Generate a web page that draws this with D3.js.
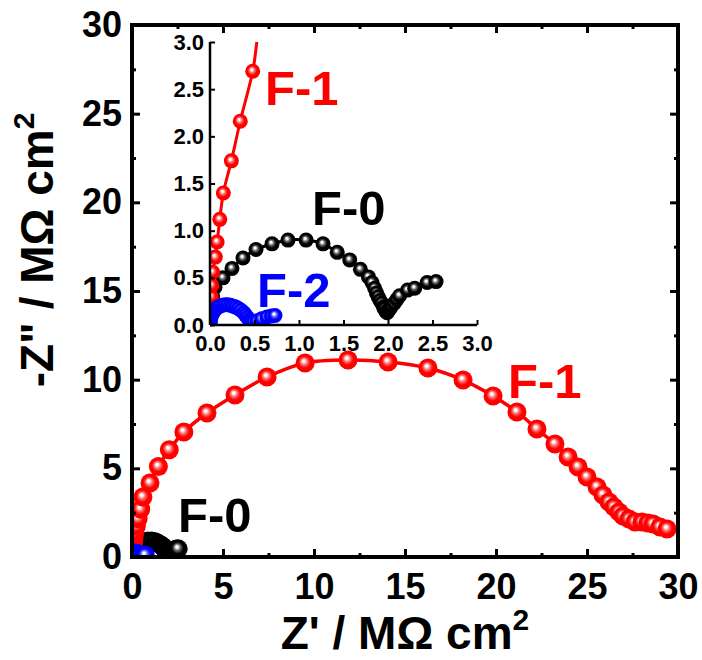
<!DOCTYPE html>
<html>
<head>
<meta charset="utf-8">
<script src="https://cdnjs.cloudflare.com/ajax/libs/d3/7.8.5/d3.min.js"></script>
<style>
body { margin: 0; background: #fff; }
text { font-family: "Liberation Sans", Arial, sans-serif; font-weight: bold; }
</style>
</head>
<body>
<svg id="chart"></svg>
<script>
// Nyquist data, Z' and -Z'' in MOhm cm2
var f0Data = [[0.01,0.1],[0.02,0.2],[0.03,0.3],[0.056,0.40],[0.146,0.50],[0.247,0.60],[0.371,0.71],
  [0.517,0.80],[0.697,0.86],[0.876,0.90],[1.08,0.90],[1.27,0.86],[1.43,0.77],[1.57,0.69],[1.69,0.59],
  [1.78,0.51],[1.82,0.45],[1.85,0.39],[1.87,0.34],[1.89,0.30],[1.91,0.26],[1.93,0.23],[1.95,0.19],
  [1.96,0.17],[1.98,0.14],[1.99,0.13],[2.00,0.15],[2.02,0.17],[2.04,0.20],[2.07,0.23],[2.10,0.27],
  [2.13,0.31],[2.22,0.37],[2.30,0.39],[2.44,0.45],[2.54,0.46]];

var f1Data = [[0.0,0.0],[0.005,0.1],[0.01,0.2],[0.015,0.3],[0.02,0.42],[0.03,0.56],[0.06,0.72],
  [0.08,0.88],[0.11,1.12],[0.15,1.40],[0.24,1.74],[0.34,2.16],[0.48,2.69],[0.60,3.38],[0.99,4.17],
  [1.45,5.1],[2.05,6.05],[2.85,7.05],[4.12,8.12],[5.66,9.14],[7.42,10.15],[9.51,10.94],[11.87,11.11],
  [14.07,11.0],[16.26,10.66],[18.19,9.98],[19.84,9.08],[21.15,8.18],[22.25,7.22],[23.24,6.37],
  [23.96,5.64],[24.51,5.08],[25.0,4.51],[25.55,3.95],[25.88,3.50],[26.21,3.10],[26.48,2.82],
  [26.76,2.54],[26.98,2.31],[27.31,2.14],[27.64,1.97],[28.02,1.97],[28.35,1.92],[28.63,1.86],
  [29.01,1.69],[29.40,1.58]];

var f2Data = [[0.0,0.0],[0.005,0.04],[0.012,0.08],[0.025,0.115],[0.04,0.14],[0.06,0.165],[0.085,0.185],
  [0.11,0.2],[0.14,0.21],[0.17,0.215],[0.2,0.215],[0.23,0.21],[0.26,0.2],[0.29,0.19],[0.32,0.175],
  [0.35,0.155],[0.38,0.13],[0.40,0.105],[0.42,0.08],[0.44,0.055],[0.46,0.04],[0.49,0.035],
  [0.53,0.045],[0.58,0.065],[0.64,0.085],[0.69,0.095],[0.73,0.1]];

var mainTicks = [0, 5, 10, 15, 20, 25, 30];
var mainMinor = [2.5, 7.5, 12.5, 17.5, 22.5, 27.5];
var insetTicks = [0, 0.5, 1.0, 1.5, 2.0, 2.5, 3.0];

var series = [
  {name: 'F-0', data: f0Data, color: '#000000', mid: '#666666'},
  {name: 'F-1', data: f1Data, color: '#ff0000', mid: '#ff7070'},
  {name: 'F-2', data: f2Data, color: '#0000ff', mid: '#6060ff'}
];

var svg = d3.select('#chart')
  .attr('width', 702)
  .attr('height', 660);

// sphere-like marker fills
var defs = svg.append('defs');
series.forEach(function(s, i) {
  var grad = defs.append('radialGradient')
    .attr('id', 'ball' + i)
    .attr('cx', 0.5).attr('cy', 0.5).attr('r', 0.5)
    .attr('fx', 0.42).attr('fy', 0.38);
  grad.append('stop').attr('offset', 0).attr('stop-color', '#ffffff');
  grad.append('stop').attr('offset', 0.12).attr('stop-color', '#ffffff');
  grad.append('stop').attr('offset', 0.35).attr('stop-color', s.mid);
  grad.append('stop').attr('offset', 0.62).attr('stop-color', s.color);
  grad.append('stop').attr('offset', 1).attr('stop-color', s.color);
});

// ---------- main plot ----------
var main = {left: 132, top: 25, width: 546, height: 532};

var x = d3.scaleLinear().domain([0, 30]).range([0, main.width]);
var y = d3.scaleLinear().domain([0, 30]).range([main.height, 0]);

var g = svg.append('g')
  .attr('transform', 'translate(' + main.left + ',' + main.top + ')');

defs.append('clipPath').attr('id', 'clipMain')
  .append('rect').attr('width', main.width).attr('height', main.height);

var plotMain = g.append('g').attr('clip-path', 'url(#clipMain)');

function drawSeries(target, xs, ys, r, lw) {
  series.forEach(function(s, i) {
    var line = d3.line()
      .x(function(d) { return xs(d[0]); })
      .y(function(d) { return ys(d[1]); })
      .curve(d3.curveCatmullRom.alpha(0.5));
    target.append('path')
      .datum(s.data)
      .attr('fill', 'none')
      .attr('stroke', s.color)
      .attr('stroke-width', lw)
      .attr('d', line);
    target.append('g')
      .selectAll('circle')
      .data(s.data)
      .enter().append('circle')
        .attr('cx', function(d) { return xs(d[0]); })
        .attr('cy', function(d) { return ys(d[1]); })
        .attr('r', r)
        .attr('fill', 'url(#ball' + i + ')');
  });
}

drawSeries(plotMain, x, y, 9.5, 3.5);

// axes, ticks pointing inward
function styleAxis(sel, fs) {
  sel.select('.domain').remove();
  sel.selectAll('text').attr('font-size', fs).attr('fill', '#000');
}

g.append('g')
  .attr('transform', 'translate(0,' + main.height + ')')
  .call(d3.axisBottom(x).tickValues(mainTicks).tickSize(-8).tickPadding(16))
  .call(styleAxis, 36)
  .selectAll('line').attr('stroke-width', 3);
g.append('g')
  .attr('transform', 'translate(0,' + main.height + ')')
  .call(d3.axisBottom(x).tickValues(mainMinor).tickSize(-4).tickFormat(''))
  .call(styleAxis, 36)
  .selectAll('line').attr('stroke-width', 3);
g.append('g')
  .call(d3.axisTop(x).tickValues(mainTicks).tickSize(-8).tickFormat(''))
  .call(styleAxis, 36)
  .selectAll('line').attr('stroke-width', 3);
g.append('g')
  .call(d3.axisTop(x).tickValues(mainMinor).tickSize(-4).tickFormat(''))
  .call(styleAxis, 36)
  .selectAll('line').attr('stroke-width', 3);

g.append('g')
  .call(d3.axisLeft(y).tickValues(mainTicks).tickSize(-8).tickPadding(10))
  .call(styleAxis, 36)
  .selectAll('line').attr('stroke-width', 3);
g.append('g')
  .call(d3.axisLeft(y).tickValues(mainMinor).tickSize(-4).tickFormat(''))
  .call(styleAxis, 36)
  .selectAll('line').attr('stroke-width', 3);
g.append('g')
  .attr('transform', 'translate(' + main.width + ',0)')
  .call(d3.axisRight(y).tickValues(mainTicks).tickSize(-8).tickFormat(''))
  .call(styleAxis, 36)
  .selectAll('line').attr('stroke-width', 3);
g.append('g')
  .attr('transform', 'translate(' + main.width + ',0)')
  .call(d3.axisRight(y).tickValues(mainMinor).tickSize(-4).tickFormat(''))
  .call(styleAxis, 36)
  .selectAll('line').attr('stroke-width', 3);

// frame
g.append('rect')
  .attr('width', main.width)
  .attr('height', main.height)
  .attr('fill', 'none')
  .attr('stroke', '#000')
  .attr('stroke-width', 4);

// axis titles
var xTitle = svg.append('text')
  .attr('x', main.left + main.width / 2)
  .attr('y', 649)
  .attr('text-anchor', 'middle')
  .attr('font-size', 46);
xTitle.append('tspan').text("Z' / M\u03A9 cm");
xTitle.append('tspan').attr('dy', -19).attr('font-size', 30).text('2');

var yTitle = svg.append('text')
  .attr('transform', 'translate(53,250) rotate(-90)')
  .attr('text-anchor', 'middle')
  .attr('font-size', 46);
yTitle.append('tspan').text('-Z" / M\u03A9 cm');
yTitle.append('tspan').attr('dy', -19).attr('font-size', 30).text('2');

// labels in main plot
svg.append('text').attr('x', 508).attr('y', 398).attr('font-size', 49)
  .attr('fill', '#ff0000').text('F-1');
svg.append('text').attr('x', 178).attr('y', 532).attr('font-size', 49)
  .attr('fill', '#000').text('F-0');

// ---------- inset ----------
var inset = {left: 210, top: 42, width: 267, height: 283};

var xi = d3.scaleLinear().domain([0, 3]).range([0, inset.width]);
var yi = d3.scaleLinear().domain([0, 3]).range([inset.height, 0]);

var gi = svg.append('g')
  .attr('transform', 'translate(' + inset.left + ',' + inset.top + ')');

defs.append('clipPath').attr('id', 'clipInset')
  .append('rect').attr('width', inset.width).attr('height', inset.height);

drawSeries(gi.append('g').attr('clip-path', 'url(#clipInset)'), xi, yi, 7.5, 3);

gi.append('g')
  .attr('transform', 'translate(0,' + inset.height + ')')
  .call(d3.axisBottom(xi).tickValues(insetTicks).tickSize(-5).tickPadding(10).tickFormat(d3.format('.1f')))
  .call(styleAxis, 22)
  .selectAll('line').attr('stroke-width', 2);
gi.append('g')
  .call(d3.axisLeft(yi).tickValues(insetTicks).tickSize(-5).tickPadding(6).tickFormat(d3.format('.1f')))
  .call(styleAxis, 22)
  .selectAll('line').attr('stroke-width', 2);

gi.append('line')
  .attr('x1', 0).attr('x2', inset.width)
  .attr('y1', inset.height).attr('y2', inset.height)
  .attr('stroke', '#000').attr('stroke-width', 2.5);
gi.append('line')
  .attr('x1', 0).attr('x2', 0)
  .attr('y1', 0).attr('y2', inset.height)
  .attr('stroke', '#000').attr('stroke-width', 2.5);

svg.append('text').attr('x', 265).attr('y', 105).attr('font-size', 49)
  .attr('fill', '#ff0000').text('F-1');
svg.append('text').attr('x', 312).attr('y', 225).attr('font-size', 49)
  .attr('fill', '#000').text('F-0');
svg.append('text').attr('x', 257).attr('y', 307).attr('font-size', 49)
  .attr('fill', '#0000ff').text('F-2');
</script>
</body>
</html>
